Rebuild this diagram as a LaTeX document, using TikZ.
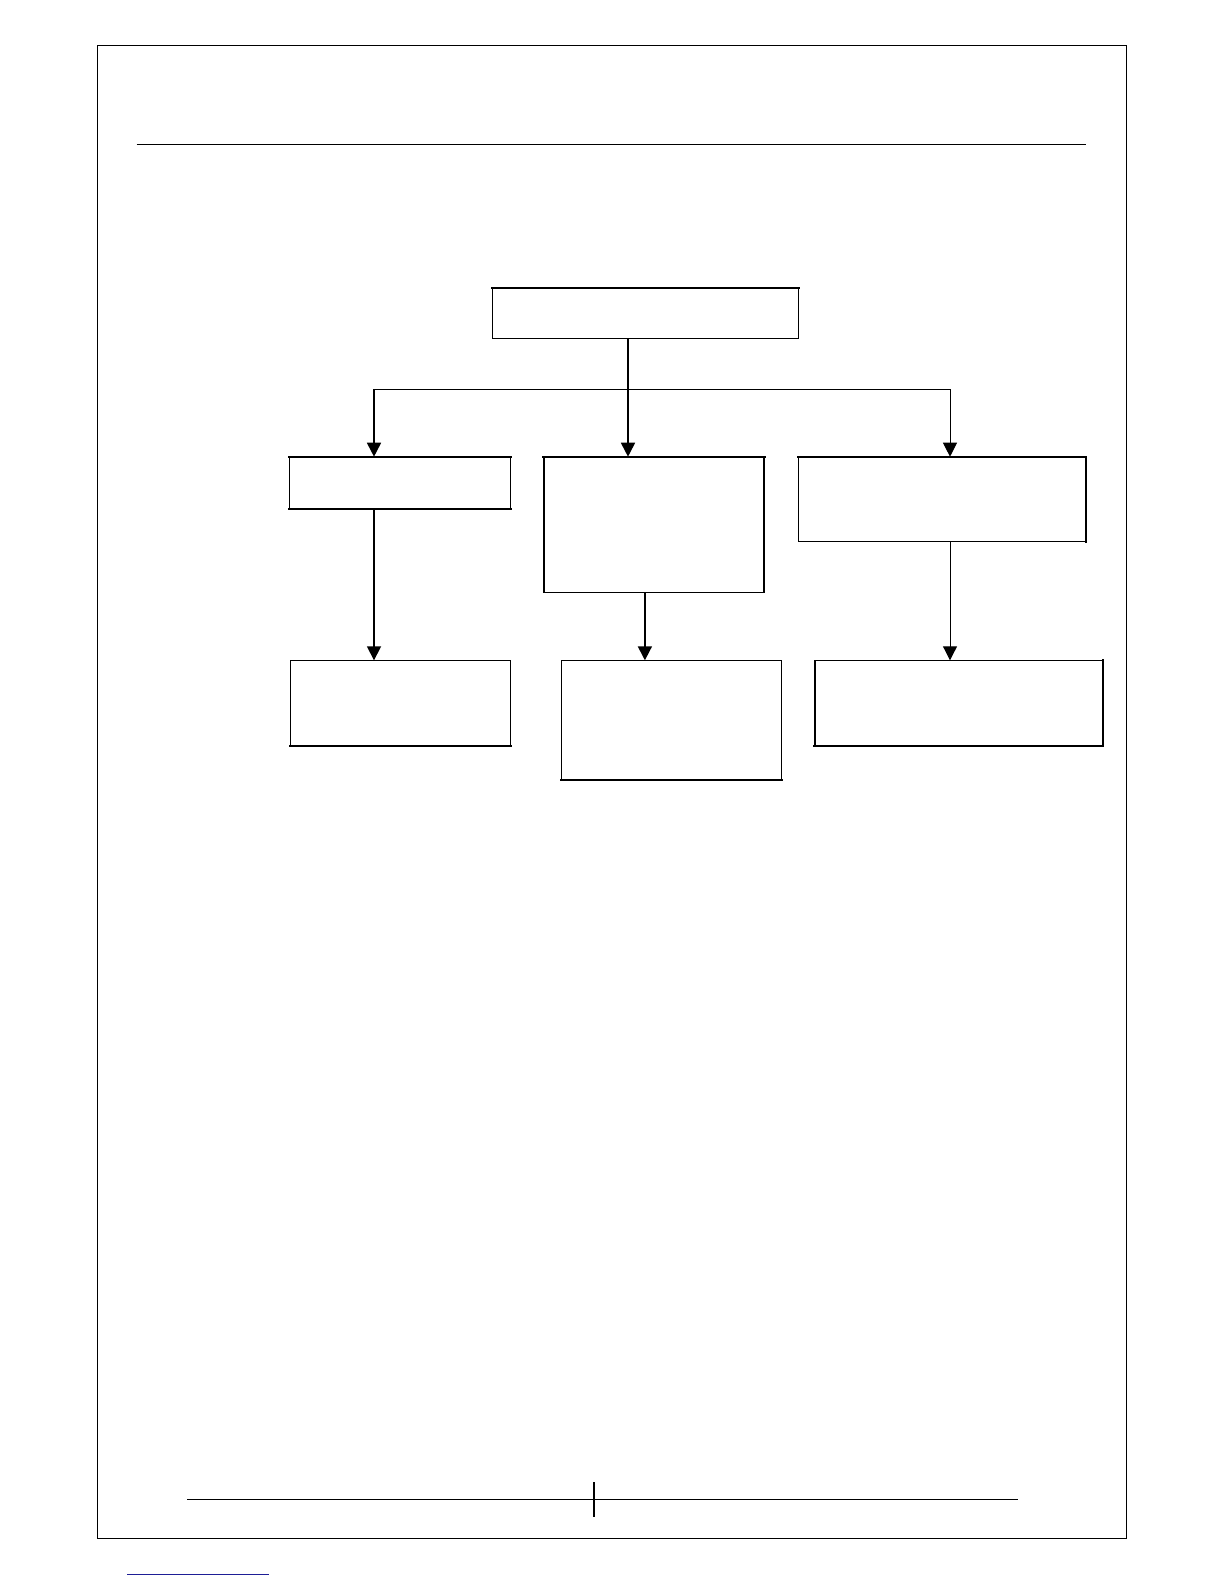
\documentclass[tikz,border=0pt]{standalone}
\usetikzlibrary{arrows.meta}
\definecolor{linkblue}{RGB}{30,30,150}
\tikzset{
  box/.style={draw=black, line width=1.1pt, rectangle, inner sep=0pt, anchor=north west},
  heavy/.style={line width=2pt, line cap=rect},
  conthick/.style={line width=1.7pt, -{Triangle[width=14pt,length=14pt]}},
  conthin/.style={line width=1pt, -{Triangle[width=14pt,length=14pt]}},
  rule/.style={line width=1.2pt}
}
\begin{document}
\begin{tikzpicture}[x=1pt,y=-1pt]
\useasboundingbox (0,0) rectangle (1224,1584);
% page frame
\draw[line width=1.2pt] (97.3,45.3) -- (97.3,1538.3);
\draw[line width=1.2pt] (97.3,45.3) -- (1126.5,45.3);
\draw[line width=1.5pt] (1126.5,45.3) -- (1126.5,1538.3) -- (97.3,1538.3);
% header rule
\draw[rule] (136.7,144.3) -- (1085.7,144.3);
% footer rule and tick
\draw[rule] (187,1499.3) -- (1017.5,1499.3);
\draw[line width=2pt] (593.9,1482) -- (593.9,1516.7);
% blue footnote line
\draw[linkblue, line width=1.3pt] (127,1574.7) -- (269,1574.7);

% boxes
\node[box, minimum width=305.4pt, minimum height=50.6pt] (top) at (492.3,287.7) {};
\node[box, minimum width=220.4pt, minimum height=51pt] (l1) at (289.3,456.7) {};
\node[box, minimum width=220pt, minimum height=135.6pt] (m1) at (543.4,456.7) {};
\node[box, minimum width=287.6pt, minimum height=84.3pt] (r1) at (797.5,456.7) {};
\node[box, minimum width=220pt, minimum height=84.4pt] (l2) at (289.5,660.3) {};
\node[box, minimum width=220pt, minimum height=118.7pt] (m2) at (560.5,660.3) {};
\node[box, minimum width=287.6pt, minimum height=84.4pt] (r2) at (814.4,660.3) {};

% heavier edges
\draw[heavy] (top.north west) -- (top.north east);
\draw[heavy] (l1.north west) -- (l1.north east);
\draw[heavy] (l1.south west) -- (l1.south east);
\draw[heavy] (m1.north west) -- (m1.north east);
\draw[heavy] (r1.north west) -- (r1.north east) -- (r1.south east);
\draw[heavy] (l2.south west) -- (l2.south east);
\draw[heavy] (m2.south west) -- (m2.south east);
\draw[heavy] (r2.north east) -- (r2.south east) -- (r2.south west);

% junction coordinates
\coordinate (jc) at (628,389.3);
\coordinate (jl) at (374,389.3);
\coordinate (jr) at (950,389.3);
\coordinate (jm) at (644.9,600);

% connectors
\draw[line width=1.7pt] (jc |- top.south) -- (jc);
\draw[line width=1pt] (jl) -- (jr);
\draw[conthick] (jc) -- (jc |- m1.north);
\draw[conthick] (jl) -- (jl |- l1.north);
\draw[conthin] (jr) -- (jr |- r1.north);
\draw[conthick] (jl |- l1.south) -- (jl |- l2.north);
\draw[conthick] (jm |- m1.south) -- (jm |- m2.north);
\draw[conthin] (jr |- r1.south) -- (jr |- r2.north);
\end{tikzpicture}
\end{document}
